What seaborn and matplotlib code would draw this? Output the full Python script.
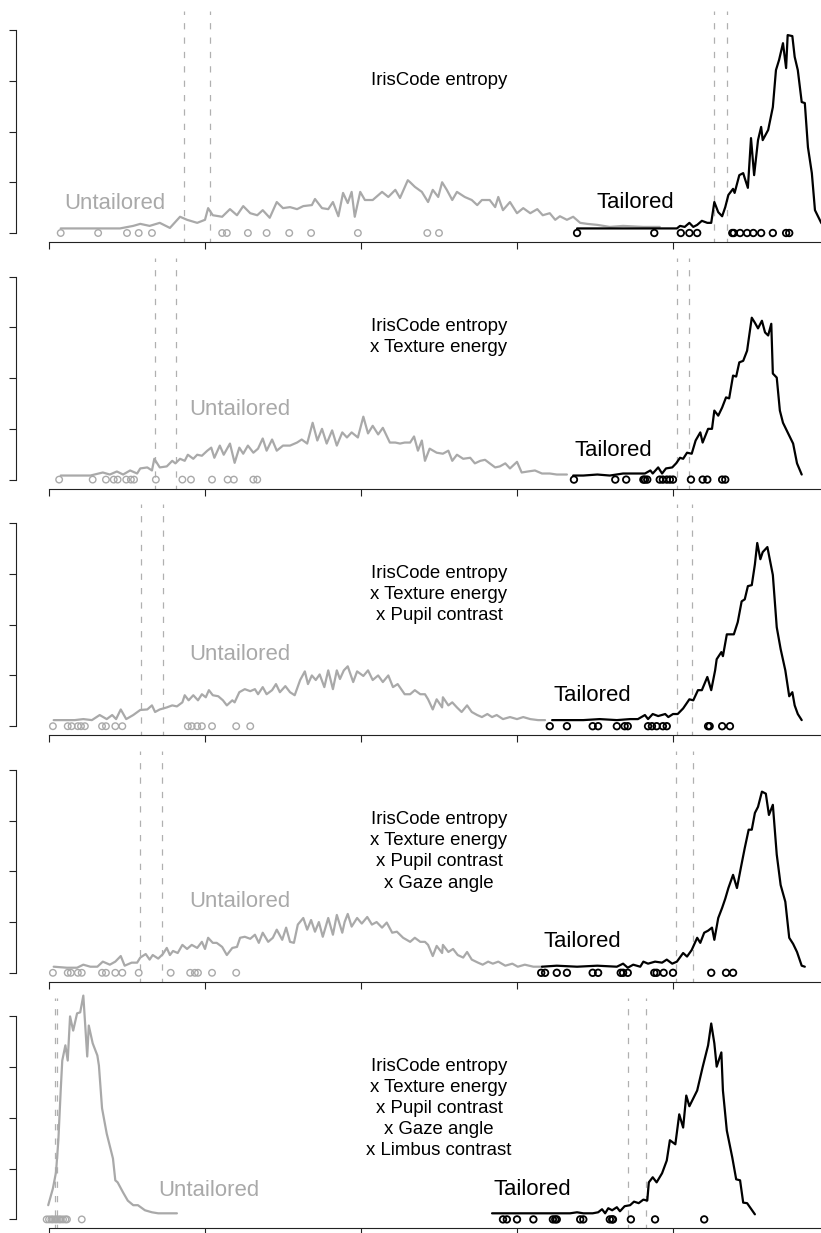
import numpy as np
import pandas as pd
import matplotlib
matplotlib.use("Agg")
import matplotlib.pyplot as plt
import seaborn as sns

# ---------------- data (x on a 0..1 scale, y in density units) ----------------
titles = [
    "IrisCode entropy",
    "IrisCode entropy\nx Texture energy",
    "IrisCode entropy\nx Texture energy\nx Pupil contrast",
    "IrisCode entropy\nx Texture energy\nx Pupil contrast\nx Gaze angle",
    "IrisCode entropy\nx Texture energy\nx Pupil contrast\nx Gaze angle\nx Limbus contrast",
]

# Panel 1
p1_untailored_x = [0.015, 0.091, 0.108, 0.117, 0.129, 0.142, 0.155, 0.168, 0.177, 0.190, 0.200, 0.204, 0.210, 0.222, 0.232, 0.241, 0.249, 0.258, 0.267, 0.274, 0.283, 0.292, 0.300, 0.309, 0.318, 0.326, 0.337, 0.341, 0.350, 0.358, 0.364, 0.371, 0.377, 0.383, 0.388, 0.392, 0.399, 0.405, 0.415, 0.427, 0.435, 0.444, 0.450, 0.460, 0.463, 0.469, 0.478, 0.486, 0.492, 0.499, 0.504, 0.510, 0.517, 0.523, 0.533, 0.542, 0.549, 0.555, 0.565, 0.572, 0.576, 0.582, 0.591, 0.600, 0.608, 0.617, 0.626, 0.633, 0.642, 0.649, 0.655, 0.664, 0.672, 0.681, 0.690, 0.703, 0.719, 0.736, 0.762, 0.783]
p1_untailored_y = [0.09, 0.09, 0.14, 0.18, 0.14, 0.20, 0.10, 0.32, 0.26, 0.20, 0.26, 0.49, 0.35, 0.32, 0.47, 0.35, 0.53, 0.39, 0.35, 0.45, 0.30, 0.61, 0.49, 0.51, 0.47, 0.53, 0.55, 0.67, 0.49, 0.47, 0.61, 0.33, 0.79, 0.59, 0.81, 0.32, 0.81, 0.65, 0.65, 0.81, 0.71, 0.85, 0.69, 1.04, 1.00, 0.91, 0.81, 0.61, 0.85, 0.71, 1.00, 0.85, 0.65, 0.81, 0.71, 0.65, 0.55, 0.65, 0.65, 0.51, 0.71, 0.45, 0.61, 0.39, 0.49, 0.39, 0.47, 0.35, 0.39, 0.26, 0.33, 0.26, 0.32, 0.20, 0.18, 0.16, 0.12, 0.14, 0.12, 0.12]
p1_tailored_x = [0.677, 0.805, 0.809, 0.815, 0.821, 0.826, 0.831, 0.837, 0.844, 0.849, 0.853, 0.858, 0.863, 0.867, 0.871, 0.877, 0.879, 0.885, 0.890, 0.892, 0.896, 0.900, 0.904, 0.909, 0.913, 0.915, 0.922, 0.928, 0.932, 0.936, 0.941, 0.945, 0.947, 0.953, 0.956, 0.960, 0.965, 0.969, 0.973, 0.978, 0.982, 0.990, 0.996]
p1_tailored_y = [0.09, 0.09, 0.14, 0.12, 0.20, 0.12, 0.16, 0.24, 0.20, 0.20, 0.61, 0.41, 0.33, 0.51, 0.75, 0.87, 0.79, 1.14, 1.18, 1.08, 0.89, 1.87, 1.14, 1.83, 2.09, 1.83, 2.03, 2.48, 3.21, 3.41, 3.74, 3.25, 3.90, 3.88, 3.47, 3.21, 2.58, 2.56, 1.69, 1.18, 0.45, 0.20, 0.09]
p1_untailored_pts = [0.015, 0.063, 0.100, 0.115, 0.132, 0.222, 0.228, 0.255, 0.279, 0.308, 0.336, 0.396, 0.485, 0.500]
p1_tailored_pts = [0.677, 0.776, 0.810, 0.821, 0.831, 0.876, 0.878, 0.886, 0.895, 0.903, 0.913, 0.928, 0.945, 0.949]
p1_thresholds = [0.173, 0.206, 0.853, 0.869]

# Panel 2
p2_untailored_x = [0.015, 0.053, 0.069, 0.078, 0.087, 0.095, 0.104, 0.113, 0.117, 0.126, 0.132, 0.135, 0.142, 0.151, 0.158, 0.162, 0.168, 0.174, 0.178, 0.185, 0.190, 0.196, 0.203, 0.208, 0.212, 0.219, 0.224, 0.232, 0.238, 0.244, 0.249, 0.255, 0.262, 0.268, 0.274, 0.279, 0.286, 0.292, 0.300, 0.309, 0.318, 0.324, 0.331, 0.338, 0.344, 0.350, 0.356, 0.363, 0.369, 0.376, 0.382, 0.388, 0.396, 0.403, 0.409, 0.415, 0.422, 0.428, 0.437, 0.444, 0.450, 0.456, 0.463, 0.468, 0.473, 0.478, 0.482, 0.488, 0.497, 0.505, 0.512, 0.517, 0.523, 0.531, 0.540, 0.546, 0.553, 0.559, 0.565, 0.572, 0.578, 0.585, 0.591, 0.600, 0.606, 0.614, 0.623, 0.632, 0.642, 0.651, 0.664]
p2_untailored_y = [0.08, 0.08, 0.14, 0.10, 0.16, 0.10, 0.18, 0.12, 0.22, 0.24, 0.18, 0.41, 0.24, 0.26, 0.37, 0.32, 0.41, 0.37, 0.49, 0.41, 0.49, 0.47, 0.57, 0.63, 0.43, 0.67, 0.49, 0.71, 0.33, 0.63, 0.51, 0.67, 0.53, 0.61, 0.81, 0.57, 0.79, 0.57, 0.67, 0.67, 0.73, 0.79, 0.71, 1.12, 0.77, 1.00, 0.71, 0.97, 0.67, 0.93, 0.83, 0.93, 0.83, 1.24, 0.91, 1.06, 0.89, 1.02, 0.73, 0.73, 0.71, 0.73, 0.73, 0.85, 0.57, 0.77, 0.37, 0.61, 0.53, 0.51, 0.57, 0.37, 0.49, 0.41, 0.43, 0.32, 0.37, 0.39, 0.32, 0.24, 0.26, 0.32, 0.22, 0.35, 0.14, 0.16, 0.18, 0.12, 0.12, 0.10, 0.10]
p2_tailored_x = [0.672, 0.685, 0.703, 0.719, 0.736, 0.749, 0.758, 0.764, 0.771, 0.774, 0.781, 0.786, 0.791, 0.799, 0.804, 0.809, 0.813, 0.818, 0.824, 0.829, 0.835, 0.838, 0.845, 0.850, 0.853, 0.858, 0.863, 0.868, 0.872, 0.877, 0.881, 0.885, 0.890, 0.895, 0.897, 0.901, 0.905, 0.909, 0.914, 0.918, 0.922, 0.926, 0.928, 0.933, 0.937, 0.941, 0.947, 0.954, 0.959, 0.965]
p2_tailored_y = [0.08, 0.08, 0.10, 0.08, 0.12, 0.12, 0.12, 0.12, 0.18, 0.12, 0.24, 0.12, 0.22, 0.24, 0.32, 0.43, 0.41, 0.53, 0.51, 0.77, 0.93, 0.73, 1.00, 1.00, 1.36, 1.26, 1.42, 1.62, 1.60, 2.05, 2.03, 2.31, 2.34, 2.54, 2.76, 3.19, 3.09, 2.98, 3.13, 2.90, 2.84, 3.07, 2.09, 2.01, 1.36, 1.12, 0.93, 0.71, 0.32, 0.10]
p2_untailored_pts = [0.013, 0.056, 0.073, 0.083, 0.088, 0.099, 0.105, 0.109, 0.137, 0.171, 0.182, 0.209, 0.229, 0.237, 0.262, 0.267]
p2_tailored_pts = [0.673, 0.726, 0.740, 0.762, 0.764, 0.767, 0.783, 0.787, 0.792, 0.796, 0.800, 0.823, 0.838, 0.844, 0.863, 0.867]
p2_thresholds = [0.136, 0.163, 0.805, 0.821]

# Panel 3
p3_untailored_x = [0.006, 0.023, 0.033, 0.044, 0.055, 0.065, 0.074, 0.081, 0.086, 0.092, 0.099, 0.108, 0.117, 0.126, 0.132, 0.136, 0.142, 0.151, 0.158, 0.164, 0.171, 0.174, 0.179, 0.185, 0.191, 0.196, 0.201, 0.205, 0.210, 0.217, 0.223, 0.228, 0.235, 0.238, 0.244, 0.251, 0.258, 0.264, 0.268, 0.274, 0.279, 0.286, 0.291, 0.296, 0.303, 0.309, 0.315, 0.322, 0.328, 0.332, 0.337, 0.342, 0.347, 0.353, 0.358, 0.364, 0.369, 0.373, 0.378, 0.383, 0.390, 0.395, 0.403, 0.409, 0.415, 0.422, 0.428, 0.435, 0.441, 0.447, 0.456, 0.463, 0.469, 0.476, 0.482, 0.486, 0.492, 0.497, 0.504, 0.505, 0.512, 0.517, 0.523, 0.529, 0.536, 0.542, 0.549, 0.555, 0.562, 0.568, 0.574, 0.582, 0.591, 0.600, 0.608, 0.617, 0.627, 0.636]
p3_untailored_y = [0.12, 0.12, 0.12, 0.14, 0.12, 0.22, 0.14, 0.22, 0.14, 0.33, 0.14, 0.22, 0.32, 0.33, 0.41, 0.28, 0.33, 0.37, 0.41, 0.39, 0.47, 0.61, 0.51, 0.61, 0.51, 0.63, 0.57, 0.71, 0.61, 0.59, 0.51, 0.41, 0.51, 0.47, 0.67, 0.73, 0.69, 0.73, 0.63, 0.77, 0.63, 0.71, 0.83, 0.67, 0.79, 0.67, 0.61, 0.91, 1.08, 0.83, 1.00, 0.91, 1.02, 0.77, 1.10, 0.73, 1.10, 0.93, 1.10, 1.18, 0.87, 1.08, 0.99, 1.10, 0.91, 1.00, 0.87, 1.00, 0.77, 0.83, 0.63, 0.63, 0.71, 0.63, 0.63, 0.53, 0.33, 0.53, 0.37, 0.57, 0.41, 0.47, 0.37, 0.28, 0.41, 0.28, 0.22, 0.18, 0.24, 0.18, 0.22, 0.14, 0.18, 0.14, 0.18, 0.14, 0.12, 0.12]
p3_tailored_x = [0.645, 0.664, 0.685, 0.706, 0.728, 0.745, 0.755, 0.764, 0.768, 0.774, 0.781, 0.790, 0.794, 0.800, 0.806, 0.813, 0.821, 0.826, 0.832, 0.837, 0.844, 0.849, 0.854, 0.856, 0.862, 0.864, 0.869, 0.878, 0.883, 0.888, 0.892, 0.896, 0.901, 0.905, 0.908, 0.912, 0.915, 0.921, 0.928, 0.933, 0.938, 0.944, 0.949, 0.953, 0.956, 0.960, 0.965]
p3_tailored_y = [0.12, 0.12, 0.12, 0.14, 0.12, 0.14, 0.14, 0.22, 0.14, 0.24, 0.20, 0.24, 0.18, 0.24, 0.24, 0.35, 0.53, 0.51, 0.71, 0.71, 0.97, 0.71, 1.10, 1.32, 1.46, 1.38, 1.81, 1.81, 2.05, 2.46, 2.50, 2.76, 2.78, 3.19, 3.61, 3.29, 3.43, 3.53, 2.98, 1.95, 1.52, 1.10, 0.59, 0.67, 0.41, 0.24, 0.12]
p3_untailored_pts = [0.005, 0.024, 0.029, 0.037, 0.041, 0.046, 0.068, 0.073, 0.085, 0.094, 0.178, 0.183, 0.190, 0.196, 0.209, 0.240, 0.258]
p3_tailored_pts = [0.642, 0.664, 0.697, 0.704, 0.728, 0.738, 0.742, 0.768, 0.773, 0.779, 0.787, 0.792, 0.845, 0.847, 0.863, 0.873]
p3_thresholds = [0.118, 0.146, 0.805, 0.824]

# Panel 4
p4_untailored_x = [0.006, 0.023, 0.036, 0.044, 0.053, 0.062, 0.069, 0.078, 0.085, 0.092, 0.097, 0.106, 0.113, 0.117, 0.124, 0.129, 0.133, 0.140, 0.146, 0.151, 0.155, 0.159, 0.165, 0.171, 0.177, 0.183, 0.190, 0.196, 0.200, 0.204, 0.210, 0.215, 0.222, 0.228, 0.235, 0.241, 0.245, 0.251, 0.258, 0.264, 0.269, 0.274, 0.281, 0.287, 0.292, 0.299, 0.304, 0.309, 0.314, 0.319, 0.326, 0.331, 0.336, 0.341, 0.346, 0.351, 0.358, 0.364, 0.369, 0.376, 0.379, 0.383, 0.388, 0.395, 0.401, 0.408, 0.414, 0.420, 0.427, 0.433, 0.440, 0.446, 0.454, 0.463, 0.469, 0.476, 0.482, 0.486, 0.492, 0.497, 0.504, 0.505, 0.512, 0.518, 0.524, 0.531, 0.536, 0.542, 0.550, 0.556, 0.563, 0.569, 0.576, 0.585, 0.594, 0.601, 0.610, 0.621, 0.632]
p4_untailored_y = [0.12, 0.10, 0.10, 0.16, 0.12, 0.12, 0.22, 0.16, 0.22, 0.33, 0.14, 0.20, 0.20, 0.30, 0.37, 0.26, 0.35, 0.28, 0.37, 0.49, 0.35, 0.43, 0.39, 0.55, 0.47, 0.55, 0.49, 0.61, 0.47, 0.69, 0.59, 0.59, 0.51, 0.35, 0.49, 0.51, 0.69, 0.71, 0.67, 0.75, 0.59, 0.79, 0.61, 0.69, 0.85, 0.65, 0.89, 0.61, 0.59, 0.95, 1.08, 0.85, 1.04, 0.81, 1.00, 0.71, 1.08, 0.75, 1.14, 0.79, 1.00, 1.16, 0.91, 1.08, 0.97, 1.10, 0.95, 1.00, 0.89, 0.99, 0.79, 0.81, 0.69, 0.61, 0.69, 0.61, 0.61, 0.55, 0.33, 0.53, 0.39, 0.55, 0.41, 0.47, 0.35, 0.30, 0.41, 0.26, 0.20, 0.16, 0.22, 0.18, 0.22, 0.14, 0.18, 0.12, 0.16, 0.12, 0.12]
p4_tailored_x = [0.632, 0.651, 0.677, 0.703, 0.728, 0.736, 0.742, 0.749, 0.758, 0.762, 0.768, 0.777, 0.786, 0.792, 0.799, 0.805, 0.813, 0.818, 0.824, 0.831, 0.835, 0.840, 0.845, 0.850, 0.853, 0.858, 0.863, 0.867, 0.871, 0.877, 0.882, 0.887, 0.892, 0.897, 0.901, 0.905, 0.909, 0.914, 0.919, 0.923, 0.928, 0.933, 0.938, 0.944, 0.949, 0.954, 0.959, 0.965, 0.969]
p4_tailored_y = [0.12, 0.14, 0.12, 0.14, 0.12, 0.18, 0.10, 0.16, 0.12, 0.22, 0.18, 0.22, 0.20, 0.26, 0.18, 0.22, 0.39, 0.32, 0.45, 0.69, 0.59, 0.79, 0.83, 0.89, 0.65, 1.08, 1.28, 1.46, 1.67, 1.93, 1.67, 2.07, 2.46, 2.82, 2.82, 3.15, 3.27, 3.57, 3.53, 3.11, 3.31, 2.33, 1.73, 1.40, 0.69, 0.57, 0.41, 0.14, 0.12]
p4_untailored_pts = [0.005, 0.024, 0.028, 0.037, 0.042, 0.068, 0.073, 0.085, 0.094, 0.115, 0.156, 0.181, 0.187, 0.191, 0.209, 0.240]
p4_tailored_pts = [0.631, 0.636, 0.651, 0.664, 0.697, 0.704, 0.733, 0.736, 0.742, 0.776, 0.779, 0.788, 0.800, 0.849, 0.868, 0.877]
p4_thresholds = [0.117, 0.145, 0.804, 0.826]

# Panel 5
p5_untailored_x = [-0.001, 0.005, 0.009, 0.012, 0.015, 0.017, 0.021, 0.024, 0.027, 0.031, 0.036, 0.040, 0.044, 0.049, 0.051, 0.056, 0.062, 0.064, 0.068, 0.074, 0.082, 0.085, 0.088, 0.095, 0.101, 0.108, 0.114, 0.123, 0.132, 0.140, 0.151, 0.164]
p5_untailored_y = [0.28, 0.61, 0.93, 1.56, 2.54, 3.13, 3.43, 3.13, 4.00, 3.72, 4.06, 4.08, 4.41, 3.21, 3.82, 3.47, 3.23, 3.03, 2.19, 1.69, 1.20, 0.77, 0.73, 0.53, 0.37, 0.28, 0.28, 0.18, 0.14, 0.12, 0.12, 0.12]
p5_tailored_x = [0.568, 0.582, 0.600, 0.626, 0.651, 0.668, 0.677, 0.685, 0.697, 0.704, 0.709, 0.713, 0.717, 0.722, 0.728, 0.732, 0.738, 0.745, 0.750, 0.756, 0.762, 0.767, 0.769, 0.774, 0.779, 0.786, 0.792, 0.796, 0.803, 0.808, 0.813, 0.817, 0.821, 0.831, 0.838, 0.845, 0.849, 0.853, 0.856, 0.862, 0.864, 0.869, 0.876, 0.881, 0.886, 0.890, 0.895, 0.905]
p5_tailored_y = [0.12, 0.12, 0.12, 0.12, 0.12, 0.12, 0.14, 0.12, 0.12, 0.14, 0.20, 0.12, 0.22, 0.18, 0.24, 0.16, 0.26, 0.28, 0.35, 0.32, 0.39, 0.37, 0.73, 0.83, 0.73, 0.91, 1.16, 1.56, 1.48, 2.07, 1.81, 2.44, 2.23, 2.54, 3.00, 3.43, 3.86, 3.47, 3.01, 3.29, 2.54, 1.75, 1.22, 0.79, 0.77, 0.33, 0.32, 0.10]
p5_untailored_pts = [-0.003, 0.000, 0.003, 0.005, 0.008, 0.010, 0.013, 0.015, 0.018, 0.021, 0.023, 0.042]
p5_tailored_pts = [0.582, 0.587, 0.600, 0.621, 0.646, 0.649, 0.651, 0.681, 0.685, 0.719, 0.722, 0.723, 0.746, 0.777, 0.840]
p5_thresholds = [0.008, 0.010, 0.742, 0.765]

# label anchor positions (x, y) for the two group names
untailored_label_pos = [(0.085, 0.59), (0.245, 1.38), (0.245, 1.42), (0.245, 1.40), (0.205, 0.57)]
tailored_label_pos = [(0.752, 0.61), (0.723, 0.57), (0.697, 0.61), (0.684, 0.61), (0.620, 0.59)]

panels = [
    (p1_untailored_x, p1_untailored_y, p1_tailored_x, p1_tailored_y, p1_untailored_pts, p1_tailored_pts, p1_thresholds),
    (p2_untailored_x, p2_untailored_y, p2_tailored_x, p2_tailored_y, p2_untailored_pts, p2_tailored_pts, p2_thresholds),
    (p3_untailored_x, p3_untailored_y, p3_tailored_x, p3_tailored_y, p3_untailored_pts, p3_tailored_pts, p3_thresholds),
    (p4_untailored_x, p4_untailored_y, p4_tailored_x, p4_tailored_y, p4_untailored_pts, p4_tailored_pts, p4_thresholds),
    (p5_untailored_x, p5_untailored_y, p5_tailored_x, p5_tailored_y, p5_untailored_pts, p5_tailored_pts, p5_thresholds),
]

# ---------------- style ----------------
sns.set_style("white")
plt.rcParams["font.family"] = ["Liberation Sans", "DejaVu Sans"]

GREY = "#a9a9a9"
DASH_GREY = "#b0b0b0"
BLACK = "#000000"

W, H = 821, 1233
fig = plt.figure(figsize=(W / 100, H / 100), dpi=100)

panel_h = H / 5.0
tick_px = 50.75          # pixels per y unit
x0_px, x1_px = 49.0, 829.0
ax_left_px, ax_right_px = 16.0, 862.0
ax_h_px = 240.0
y_bottom = -9.0 / tick_px
y_top = y_bottom + ax_h_px / tick_px
x_per_px = 1.0 / (x1_px - x0_px)
xlim = ((ax_left_px - x0_px) * x_per_px, 1 + (ax_right_px - x1_px) * x_per_px)

for i, (ux, uy, tx, ty, upts, tpts, thr) in enumerate(panels):
    base = i * panel_h
    bottom_px = base + 242.0
    ax = fig.add_axes([ax_left_px / W, 1 - bottom_px / H,
                       (ax_right_px - ax_left_px) / W, ax_h_px / H])
    ax.set_xlim(*xlim)
    ax.set_ylim(y_bottom, y_top)

    for v in thr:
        ax.axvline(v, ymin=0, ymax=0.962, color=DASH_GREY, lw=0.9,
                   linestyle=(2, (5.0, 6.5)), zorder=1)

    sns.lineplot(x=ux, y=uy, ax=ax, color=GREY, lw=1.6, sort=False,
                 estimator=None, zorder=2)
    sns.lineplot(x=tx, y=ty, ax=ax, color=BLACK, lw=1.6, sort=False,
                 estimator=None, zorder=3)

    sns.scatterplot(x=upts, y=np.zeros(len(upts)), ax=ax, marker="o", s=22,
                    facecolor="none", edgecolor=GREY, linewidth=1.0, zorder=4)
    sns.scatterplot(x=tpts, y=np.zeros(len(tpts)), ax=ax, marker="o", s=22,
                    facecolor="none", edgecolor=BLACK, linewidth=1.3, zorder=5)

    ax.text(0.5, 3.18, titles[i], ha="center", va="top", fontsize=13.4,
            linespacing=1.31, color="black")
    ux_l, uy_l = untailored_label_pos[i]
    tx_l, ty_l = tailored_label_pos[i]
    ax.text(ux_l, uy_l, "Untailored", ha="center", va="center", fontsize=15.9,
            color=GREY)
    ax.text(tx_l, ty_l, "Tailored", ha="center", va="center", fontsize=15.9,
            color=BLACK)

    ax.set_xticks([0, 0.2, 0.4, 0.6, 0.8, 1.0])
    ax.set_yticks([0, 1, 2, 3, 4])
    ax.tick_params(axis="both", direction="out", length=5, width=0.8,
                   color="#222222", labelbottom=False, labelleft=False,
                   bottom=True, left=True)
    ax.set_xlabel("")
    ax.set_ylabel("")
    for s in ["top", "right"]:
        ax.spines[s].set_visible(False)
    ax.spines["left"].set_bounds(0, 4)
    ax.spines["bottom"].set_bounds(0, 1)
    for s in ["left", "bottom"]:
        ax.spines[s].set_color("#222222")
        ax.spines[s].set_linewidth(0.8)
    ax.patch.set_alpha(0)
    if ax.get_legend() is not None:
        ax.get_legend().remove()

fig.savefig("out.png", dpi=100)
